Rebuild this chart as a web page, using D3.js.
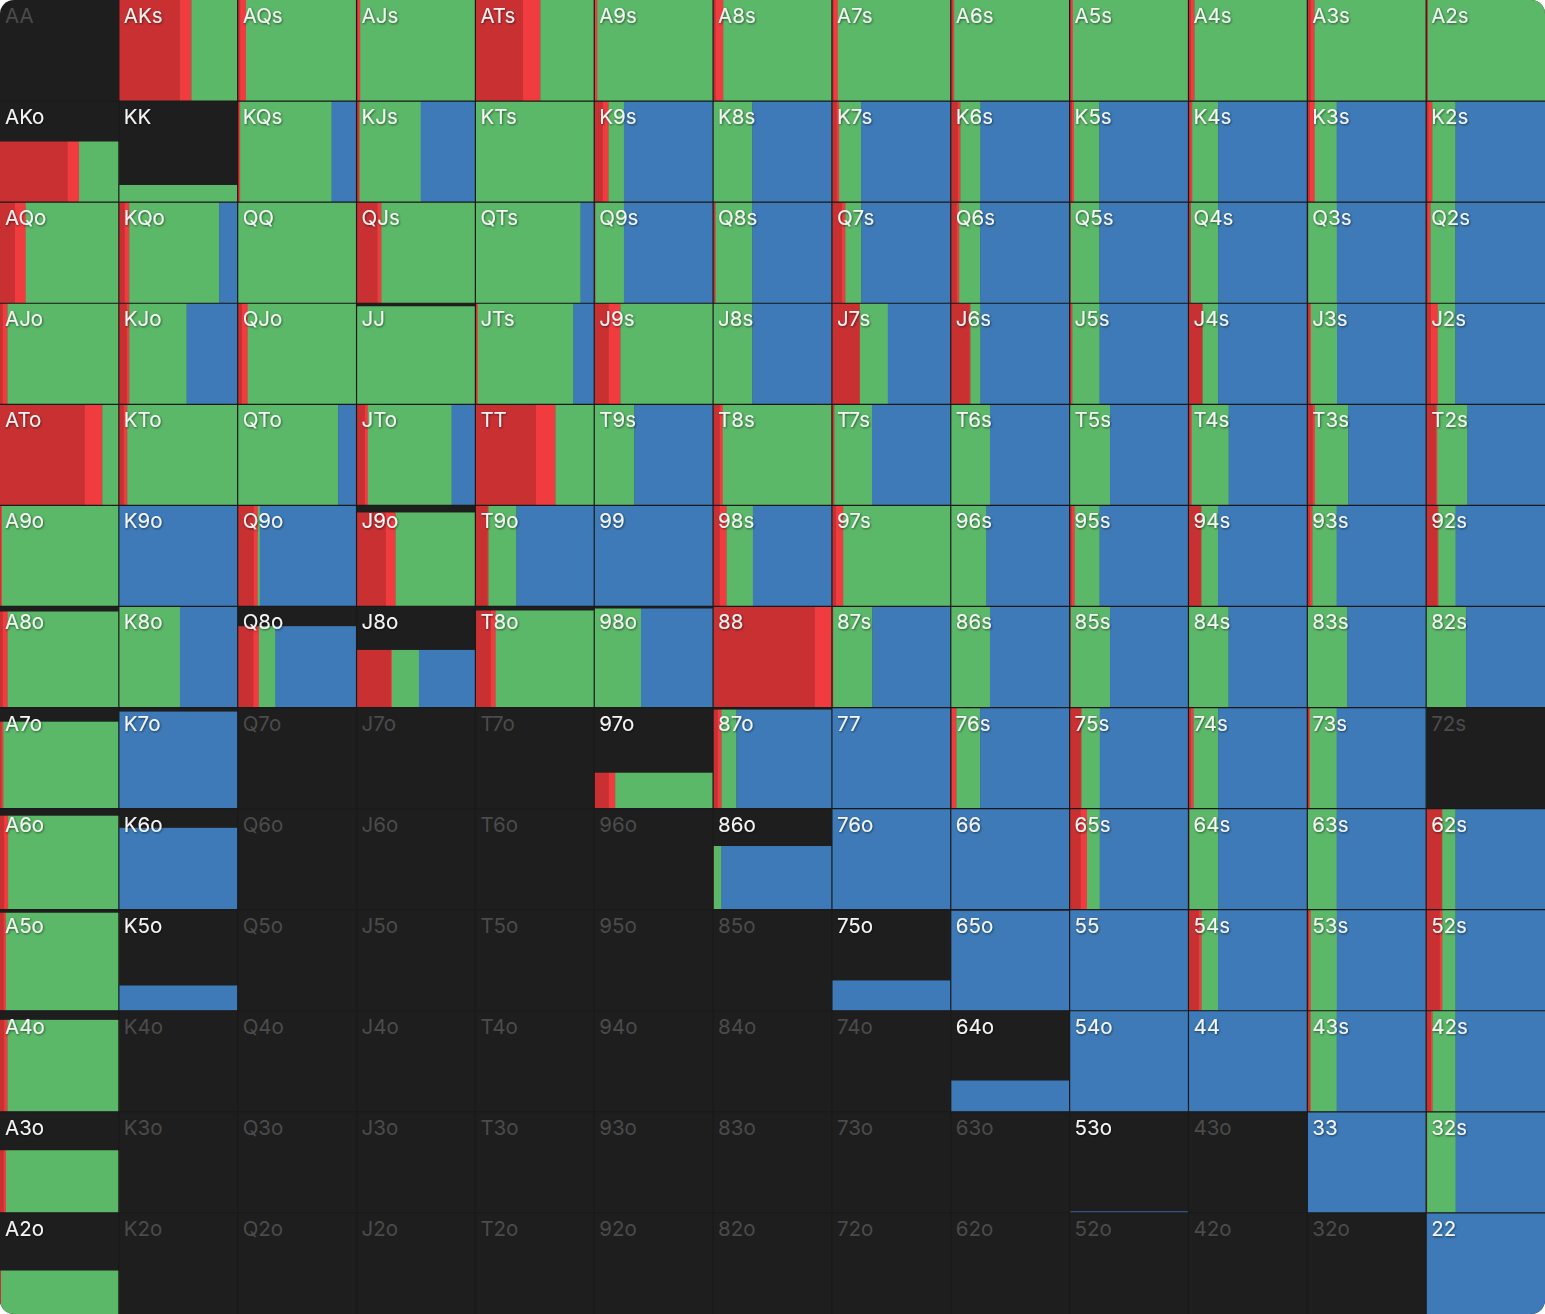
<!DOCTYPE html>
<html>
<head>
<meta charset="utf-8">
<script src="https://cdn.jsdelivr.net/npm/d3@7"></script>
<style>
  html, body { margin: 0; padding: 0; background: #ffffff; }
  svg { display: block; }
</style>
</head>
<body>
<div id="chart"></div>
<script>
// hand grid ranks, rows and columns
const ranks = ["A", "K", "Q", "J", "T", "9", "8", "7", "6", "5", "4", "3", "2"];

// share of the combo that is in range (bar height)
const weight = [
  [0, 1, 1, 1, 1, 1, 1, 1, 1, 1, 1, 1, 1],
  [.60, .17, 1, 1, 1, 1, 1, 1, 1, 1, 1, 1, 1],
  [1, 1, 1, 1, 1, 1, 1, 1, 1, 1, 1, 1, 1],
  [1, 1, 1, .97, 1, 1, 1, 1, 1, 1, 1, 1, 1],
  [1, 1, 1, 1, 1, 1, 1, 1, 1, 1, 1, 1, 1],
  [1, 1, 1, .93, 1, 1, 1, 1, 1, 1, 1, 1, 1],
  [.95, 1, .805, .57, .96, .98, 1, 1, 1, 1, 1, 1, 1],
  [.86, .96, 0, 0, 0, .355, .98, 1, 1, 1, 1, 1, 0],
  [.93, .81, 0, 0, 0, 0, .63, 1, 1, 1, 1, 1, 1],
  [.97, .25, 0, 0, 0, 0, 0, .30, .99, 1, 1, 1, 1],
  [.91, 0, 0, 0, 0, 0, 0, 0, .31, 1, 1, 1, 1],
  [.62, 0, 0, 0, 0, 0, 0, 0, 0, .015, 0, 1, 1],
  [.43, 0, 0, 0, 0, 0, 0, 0, 0, 0, 0, 0, 1]
];

// action frequencies, left to right inside each cell
const raiseBig = [
  [0, .51, .02, .01, .40, .005, .02, .015, .013, .01, .02, .03, .01],
  [.57, 0, .01, .015, .005, .07, 0, .04, .06, .02, .014, .022, .017],
  [.126, .05, 0, .174, 0, .005, .01, .084, .05, .01, .02, .008, .014],
  [.022, .065, .036, 0, .01, .12, 0, .235, .155, .008, .118, .02, .036],
  [.71, .04, 0, .07, .51, 0, .053, .01, 0, 0, .014, .042, .078],
  [.008, 0, .135, .244, .10, 0, .053, .034, 0, .014, .104, .022, .092],
  [.022, 0, .13, .287, .13, 0, .854, .01, 0, .01, 0, 0, 0],
  [.01, 0, 0, 0, 0, .12, .04, 0, .01, .093, .02, .014, 0],
  [.034, 0, 0, 0, 0, 0, .005, 0, 0, .09, .008, 0, .13],
  [.028, 0, 0, 0, 0, 0, 0, 0, 0, 0, .084, .014, .115],
  [.034, 0, 0, 0, 0, 0, 0, 0, 0, 0, 0, .017, .036],
  [.028, 0, 0, 0, 0, 0, 0, 0, 0, 0, 0, 0, .008],
  [.008, 0, 0, 0, 0, 0, 0, 0, 0, 0, 0, 0, 0]
];

const raiseSmall = [
  [0, .10, .05, .02, .146, .02, .065, .035, .015, .017, .03, .03, .005],
  [.095, 0, .01, .01, 0, .05, 0, .02, .02, .017, .017, .04, .034],
  [.09, .037, 0, .034, 0, .005, .01, .028, .02, 0, 0, 0, .022],
  [.04, .022, .048, 0, .01, .10, 0, 0, .01, .014, 0, .01, .062],
  [.15, .03, 0, .025, .163, 0, .028, .01, 0, 0, .014, .022, .014],
  [.008, 0, .034, .084, .01, 0, .06, .06, 0, .028, .005, .02, .01],
  [.042, 0, .048, .01, .04, 0, .146, 0, 0, 0, 0, 0, 0],
  [.017, 0, 0, 0, 0, .056, .03, 0, .037, .006, .022, .008, 0],
  [.034, 0, 0, 0, 0, 0, 0, 0, 0, .056, 0, 0, .005],
  [.022, 0, 0, 0, 0, 0, 0, 0, 0, 0, .025, .014, .02],
  [.028, 0, 0, 0, 0, 0, 0, 0, 0, 0, 0, .01, .017],
  [.022, 0, 0, 0, 0, 0, 0, 0, 0, 0, 0, 0, 0],
  [0, 0, 0, 0, 0, 0, 0, 0, 0, 0, 0, 0, 0]
];

const call = [
  [0, .39, .93, .97, .454, .975, .915, .95, .972, .973, .95, .94, .985],
  [.335, 1, .77, .515, .995, .13, .33, .185, .17, .213, .219, .185, .196],
  [.784, .758, 1, .792, .885, .24, .31, .135, .177, .24, .23, .24, .21],
  [.938, .483, .916, 1, .805, .78, .33, .235, .085, .23, .132, .22, .148],
  [.14, .93, .845, .705, .327, .337, .919, .317, .33, .34, .31, .28, .255],
  [.984, 0, .017, .672, .235, 0, .222, .906, .30, .21, .14, .205, .146],
  [.936, .514, .14, .228, .83, .393, 0, .33, .33, .33, .337, .337, .337],
  [.973, 0, 0, 0, 0, .824, .126, 0, .20, .155, .208, .225, 0],
  [.932, 0, 0, 0, 0, 0, .065, 0, 0, .107, .242, .247, .112],
  [.95, 0, 0, 0, 0, 0, 0, 0, 0, 0, .14, .22, .112],
  [.938, 0, 0, 0, 0, 0, 0, 0, 0, 0, 0, .22, .194],
  [.95, 0, 0, 0, 0, 0, 0, 0, 0, 0, 0, 0, .24],
  [.992, 0, 0, 0, 0, 0, 0, 0, 0, 0, 0, 0, 0]
];

const fold = [
  [0, 0, 0, 0, 0, 0, 0, 0, 0, 0, 0, 0, 0],
  [0, 0, .21, .46, 0, .75, .67, .755, .75, .75, .75, .753, .753],
  [0, .155, 0, 0, .115, .75, .67, .753, .753, .75, .75, .752, .754],
  [0, .43, 0, 0, .175, 0, .67, .53, .75, .748, .75, .75, .754],
  [0, 0, .155, .20, 0, .663, 0, .663, .67, .66, .662, .656, .653],
  [0, 1, .814, 0, .655, 1, .665, 0, .70, .748, .751, .753, .752],
  [0, .486, .682, .475, 0, .607, 0, .66, .67, .66, .663, .663, .663],
  [0, 1, 0, 0, 0, 0, .804, 1, .753, .746, .75, .753, 0],
  [0, 1, 0, 0, 0, 0, .93, 1, 1, .747, .75, .753, .753],
  [0, 1, 0, 0, 0, 0, 0, 1, 1, 1, .751, .752, .753],
  [0, 0, 0, 0, 0, 0, 0, 0, 1, 1, 1, .753, .753],
  [0, 0, 0, 0, 0, 0, 0, 0, 0, 1, 0, 1, .752],
  [0, 0, 0, 0, 0, 0, 0, 0, 0, 0, 0, 0, 1]
];

const actions = [raiseBig, raiseSmall, call, fold];
const actionColors = ["#c93032", "#f03b3f", "#5bb868", "#3d7ab7"];

const width = 1545;
const height = 1314;

function handName(i, j) {
  if (i === j) return ranks[i] + ranks[j];
  if (j > i) return ranks[i] + ranks[j] + "s";
  return ranks[j] + ranks[i] + "o";
}

// one record per cell
const cells = [];
ranks.forEach((r, i) => {
  ranks.forEach((c, j) => {
    cells.push({ row: i, col: j, hand: handName(i, j), weight: weight[i][j] });
  });
});

const x = d3.scaleBand().domain(d3.range(ranks.length)).range([0, width]);
const y = d3.scaleBand().domain(d3.range(ranks.length)).range([0, height]);
const freq = d3.scaleLinear().domain([0, 1]).range([0, x.bandwidth()]);
const fill = d3.scaleLinear().domain([0, 1]).range([0, y.bandwidth()]);

const svg = d3.select("#chart").append("svg")
  .attr("width", width)
  .attr("height", height);

const defs = svg.append("defs");
defs.append("clipPath").attr("id", "frame")
  .append("rect")
  .attr("width", width).attr("height", height)
  .attr("rx", 14).attr("ry", 14);

const shadow = defs.append("filter").attr("id", "txtshadow")
  .attr("x", "-20%").attr("y", "-30%").attr("width", "140%").attr("height", "160%");
shadow.append("feDropShadow")
  .attr("dx", 0.8).attr("dy", 1)
  .attr("stdDeviation", 0.8)
  .attr("flood-color", "#000").attr("flood-opacity", 0.55);

const g = svg.append("g").attr("clip-path", "url(#frame)");

g.append("rect").attr("width", width).attr("height", height).attr("fill", "#1e1e1e");

const cell = g.selectAll("g.cell")
  .data(cells)
  .enter()
  .append("g")
  .attr("class", "cell")
  .attr("transform", d => `translate(${x(d.col)},${y(d.row)})`);

// stacked action segments, bottom aligned, height = weight
cell.each(function (d) {
  if (d.weight <= 0) return;
  let offset = 0;
  const segs = actions.map((a, k) => {
    const s = { x0: offset, w: a[d.row][d.col], color: actionColors[k] };
    offset += s.w;
    return s;
  }).filter(s => s.w > 0);
  d3.select(this).selectAll("rect.seg")
    .data(segs)
    .enter()
    .append("rect")
    .attr("class", "seg")
    .attr("x", s => freq(s.x0))
    .attr("width", s => freq(s.w) + 0.3)
    .attr("y", y.bandwidth() - fill(d.weight))
    .attr("height", fill(d.weight))
    .attr("fill", s => s.color);
});

// grid lines
g.selectAll("line.v")
  .data(d3.range(1, ranks.length))
  .enter()
  .append("line")
  .attr("x1", d => x(d)).attr("x2", d => x(d))
  .attr("y1", 0).attr("y2", height)
  .attr("stroke", "#1a1a1a")
  .attr("stroke-width", 1.2);

g.selectAll("line.h")
  .data(d3.range(1, ranks.length))
  .enter()
  .append("line")
  .attr("y1", d => y(d)).attr("y2", d => y(d))
  .attr("x1", 0).attr("x2", width)
  .attr("stroke", "#1a1a1a")
  .attr("stroke-width", 1.2);

cell.append("text")
  .attr("x", 5)
  .attr("y", 23)
  .attr("font-family", "Inter, 'Noto Sans', sans-serif")
  .attr("font-size", 20.5)
  .attr("fill", d => d.weight > 0 ? "#f4f4f4" : "#4b4b4b")
  .attr("filter", d => d.weight > 0 ? "url(#txtshadow)" : null)
  .text(d => d.hand);
</script>
</body>
</html>
